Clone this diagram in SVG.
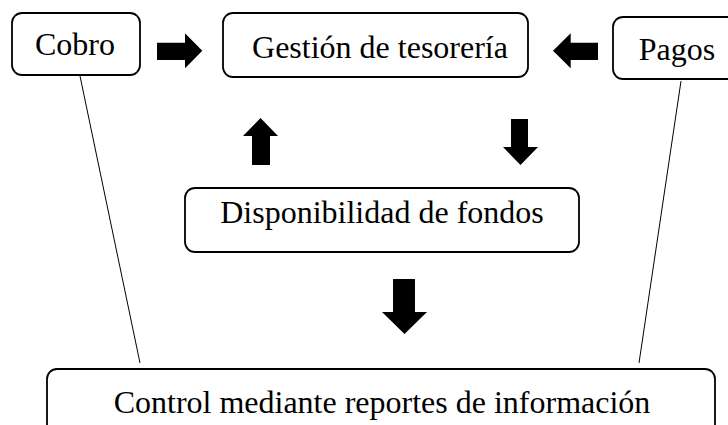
<svg xmlns="http://www.w3.org/2000/svg" width="728" height="425" viewBox="0 0 728 425">
<style>
.box{fill:#fff;stroke:#000;stroke-width:1.8}
.lbl{font-family:'Times New Roman','Liberation Serif',Times,serif;font-size:32px;fill:#000;text-anchor:middle}
.conn{stroke:#000;stroke-width:1;fill:none}
.blk{fill:#000;stroke:none}
</style>
<rect width="728" height="425" fill="#fff"/>
<g id="connectors">
<line class="conn" x1="80" y1="76" x2="140" y2="363"/>
<line class="conn" x1="681" y1="81" x2="639" y2="363"/>
<polygon class="blk" points="157,42.7 185,42.7 185,33.3 202.3,50.7 185,68.3 185,60 157,60"/>
<polygon class="blk" points="598,42.7 570.7,42.7 570.7,33.3 553,50.7 570.7,68.3 570.7,60 598,60"/>
<polygon class="blk" points="252,165 252,136 243,136 260.5,118 278,136 270,136 270,165"/>
<polygon class="blk" points="511,119 528,119 528,147 538,147 520.5,165 503,147 511,147"/>
<polygon class="blk" points="393,279 415,279 415,312 427,312 404.5,334 382,312 393,312"/>
</g>
<g id="cobro">
<rect class="box" x="12" y="13" width="128" height="62" rx="10"/>
<text class="lbl" x="75" y="55">Cobro</text>
</g>
<g id="gestion">
<rect class="box" x="223" y="13" width="305" height="64" rx="10"/>
<text class="lbl" x="380" y="58">Gestión de tesorería</text>
</g>
<g id="pagos">
<rect class="box" x="613" y="17" width="130" height="62" rx="10"/>
<text class="lbl" x="677" y="60">Pagos</text>
</g>
<g id="disponibilidad">
<rect class="box" x="185" y="188" width="394" height="64" rx="10"/>
<text class="lbl" x="382" y="223">Disponibilidad de fondos</text>
</g>
<g id="control">
<rect class="box" x="47" y="369" width="668" height="80" rx="10"/>
<text class="lbl" x="382" y="413">Control mediante reportes de información</text>
</g>
</svg>
